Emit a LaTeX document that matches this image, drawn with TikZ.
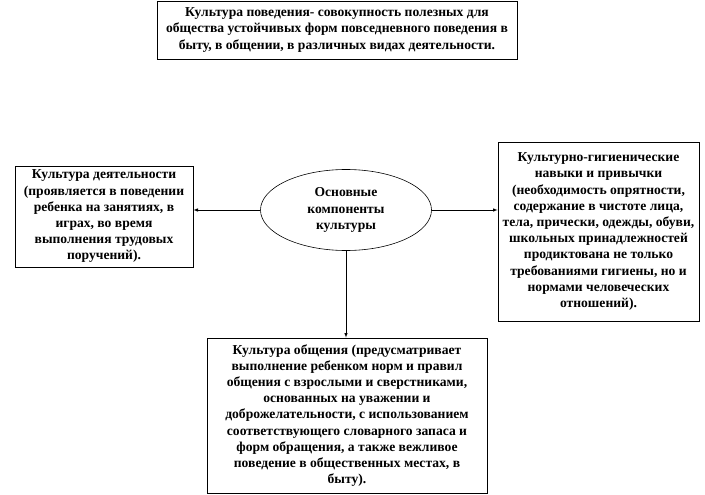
\documentclass[tikz,border=0pt]{standalone}
\usepackage{fontspec}
\setmainfont{Liberation Serif}
\usepackage{tikz}
\usetikzlibrary{shapes.geometric, arrows, positioning}

\begin{document}
\begin{tikzpicture}[x=1pt, y=-1pt,
    box/.style={draw, rectangle, line width=0.8pt, align=center, inner sep=1pt,
        font=\bfseries\fontsize{13.6}{16.2}\selectfont},
    link/.style={-latex, line width=0.6pt}]
\useasboundingbox (0,0) rectangle (705,495);
\node[box, minimum width=360pt, minimum height=58pt] (behavior) at (337,30)
    {Культура поведения- совокупность полезных для\\
     общества устойчивых форм повседневного поведения в\\
     быту, в общении, в различных видах деятельности.};
\node[draw, ellipse, line width=0.6pt, minimum width=171pt, minimum height=81pt, align=center,
    font=\bfseries\fontsize{13.6}{16.2}\selectfont] (core) at (346,210)
    {Основные\\ компоненты\\ культуры};
\node[box, minimum width=178pt, minimum height=101pt] (activity) at (104,216.5)
    {Культура деятельности\\
     (проявляется в поведении\\
     ребенка на занятиях, в\\
     играх, во время\\
     выполнения трудовых\\
     поручений).};
\node[box, minimum width=201pt, minimum height=179pt] (hygiene) at (598.5,231.5)
    {Культурно-гигиенические\\
     навыки и привычки\\
     (необходимость опрятности,\\
     содержание в чистоте лица,\\
     тела, прически, одежды, обуви,\\
     школьных принадлежностей\\
     продиктована не только\\
     требованиями гигиены, но и\\
     нормами человеческих\\
     отношений).};
\node[box, minimum width=280pt, minimum height=155pt] (talk) at (347,415.5)
    {Культура общения (предусматривает\\
     выполнение ребенком норм и правил\\
     общения с взрослыми и сверстниками,\\
     основанных на уважении и\\
     доброжелательности, с использованием\\
     соответствующего словарного запаса и\\
     форм обращения, а также вежливое\\
     поведение в общественных местах, в\\
     быту).};

% Connectors
\draw[link] (core.west) -- (activity.east |- core.west);
\draw[link] (core.east) -- (hygiene.west |- core.east);
\draw[link] (core.south) -- (talk.north -| core.south);
\end{tikzpicture}
\end{document}
